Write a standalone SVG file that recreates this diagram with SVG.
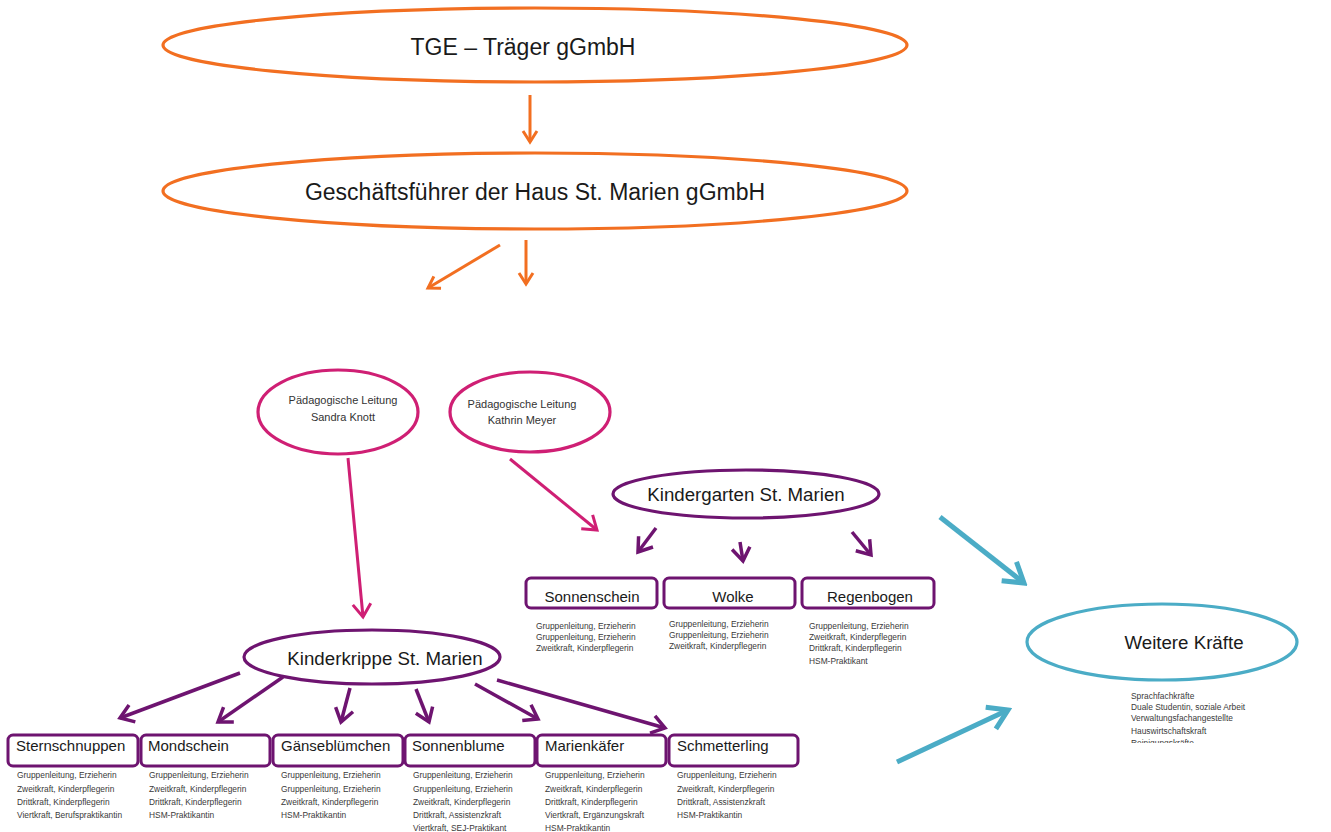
<svg xmlns="http://www.w3.org/2000/svg" width="1331" height="832" viewBox="0 0 1331 832">
<style>
.t{font-family:"Liberation Sans",Arial,sans-serif;fill:#1a1a1a}
.big{font-size:23px}
.mid{font-size:18.7px}
.box{font-size:15px}
.pl{font-size:11px;fill:#333}
.sm{font-size:8.4px;fill:#3a3a3a}
.eo{fill:none;stroke:#F26F21;stroke-width:3.2}
.em{fill:none;stroke:#CF1F74;stroke-width:3.2}
.ep{fill:none;stroke:#6E1470;stroke-width:3.2}
.et{fill:none;stroke:#4BACC6;stroke-width:3.2}
.r{fill:#fff;stroke:#6E1470;stroke-width:3}
.ao{stroke:#F26F21;stroke-width:3;fill:none;marker-end:url(#mo)}
.am{stroke:#CF1F74;stroke-width:3;fill:none;marker-end:url(#mm)}
.ap{stroke:#6E1470;stroke-width:3.5;fill:none;marker-end:url(#mp)}
.at{stroke:#4BACC6;stroke-width:5;fill:none;marker-end:url(#mt)}
</style>
<defs>
<marker id="mo" markerUnits="userSpaceOnUse" viewBox="0 0 20 20" markerWidth="20" markerHeight="20" refX="17" refY="10" orient="auto"><path d="M6,3 L17,10 L6,17" fill="none" stroke="#F26F21" stroke-width="3"/></marker>
<marker id="mm" markerUnits="userSpaceOnUse" viewBox="0 0 24 24" markerWidth="24" markerHeight="24" refX="20" refY="12" orient="auto"><path d="M7,3 L20,12 L7,21" fill="none" stroke="#CF1F74" stroke-width="3"/></marker>
<marker id="mp" markerUnits="userSpaceOnUse" viewBox="0 0 24 24" markerWidth="24" markerHeight="24" refX="20" refY="12" orient="auto"><path d="M7,3 L20,12 L7,21" fill="none" stroke="#6E1470" stroke-width="3.5"/></marker>
<marker id="mt" markerUnits="userSpaceOnUse" viewBox="0 0 32 32" markerWidth="32" markerHeight="32" refX="28" refY="16" orient="auto"><path d="M9,4 L28,16 L9,28" fill="none" stroke="#4BACC6" stroke-width="5"/></marker>
<clipPath id="cw"><rect x="1100" y="680" width="200" height="63"/></clipPath>
</defs>
<rect width="1331" height="832" fill="#fff"/>

<g id="connectors">
<line class="ao" x1="530" y1="95" x2="530" y2="142"/>
<line class="ao" x1="500" y1="245" x2="428" y2="288"/>
<line class="ao" x1="526" y1="240" x2="526" y2="284"/>
<line class="am" x1="348" y1="458" x2="363" y2="617"/>
<line class="am" x1="510" y1="459" x2="597" y2="530"/>
<line class="ap" x1="656" y1="528" x2="638" y2="552"/>
<line class="ap" x1="740" y1="542" x2="743" y2="561"/>
<line class="ap" x1="852" y1="532" x2="871" y2="555"/>
<line class="ap" x1="240" y1="673" x2="120" y2="718"/>
<line class="ap" x1="283" y1="677" x2="218" y2="722"/>
<line class="ap" x1="350" y1="688" x2="341" y2="722"/>
<line class="ap" x1="416" y1="689" x2="429" y2="722"/>
<line class="ap" x1="475" y1="684" x2="538" y2="719"/>
<line class="ap" x1="497" y1="680" x2="665" y2="728"/>
<line class="at" x1="940" y1="517" x2="1024" y2="583"/>
<line class="at" x1="897" y1="762" x2="1008" y2="710"/>
</g>

<g id="tge">
<ellipse class="eo" cx="535" cy="45" rx="372" ry="37"/>
<text class="t big" x="523" y="55" text-anchor="middle" font-size="22">TGE – Träger gGmbH</text>
</g>
<g id="gf">
<ellipse class="eo" cx="535" cy="191" rx="372" ry="38"/>
<text class="t big" x="535" y="200" text-anchor="middle" font-size="23.6">Geschäftsführer der Haus St. Marien gGmbH</text>
</g>

<g id="pl-knott">
<ellipse class="em" cx="338" cy="412" rx="80" ry="42"/>
<text class="t pl" x="343" y="404" text-anchor="middle">Pädagogische Leitung</text>
<text class="t pl" x="343" y="421" text-anchor="middle">Sandra Knott</text>
</g>
<g id="pl-meyer">
<ellipse class="em" cx="530" cy="412" rx="80" ry="40"/>
<text class="t pl" x="522" y="408" text-anchor="middle">Pädagogische Leitung</text>
<text class="t pl" x="522" y="424" text-anchor="middle">Kathrin Meyer</text>
</g>

<g id="kindergarten">
<ellipse class="ep" cx="746" cy="494" rx="133" ry="24"/>
<text class="t mid" x="746" y="501" text-anchor="middle">Kindergarten St. Marien</text>
</g>

<g id="sonnenschein">
<rect class="r" x="526" y="578" width="131" height="30" rx="5"/>
<text class="t box" x="592" y="602" text-anchor="middle">Sonnenschein</text>
<text class="t sm" x="536" y="629">Gruppenleitung, Erzieherin</text>
<text class="t sm" x="536" y="640">Gruppenleitung, Erzieherin</text>
<text class="t sm" x="536" y="651">Zweitkraft, Kinderpflegerin</text>
</g>
<g id="wolke">
<rect class="r" x="664" y="578" width="131" height="30" rx="5"/>
<text class="t box" x="733" y="602" text-anchor="middle">Wolke</text>
<text class="t sm" x="669" y="627">Gruppenleitung, Erzieherin</text>
<text class="t sm" x="669" y="638">Gruppenleitung, Erzieherin</text>
<text class="t sm" x="669" y="649">Zweitkraft, Kinderpflegerin</text>
</g>
<g id="regenbogen">
<rect class="r" x="802" y="578" width="132" height="30" rx="5"/>
<text class="t box" x="870" y="602" text-anchor="middle">Regenbogen</text>
<text class="t sm" x="809" y="629">Gruppenleitung, Erzieherin</text>
<text class="t sm" x="809" y="640">Zweitkraft, Kinderpflegerin</text>
<text class="t sm" x="809" y="651">Drittkraft, Kinderpflegerin</text>
<text class="t sm" x="809" y="664">HSM-Praktikant</text>
</g>

<g id="kinderkrippe">
<ellipse class="ep" cx="372" cy="657" rx="128" ry="27"/>
<text class="t mid" x="385" y="665" text-anchor="middle">Kinderkrippe St. Marien</text>
</g>

<g id="sternschnuppen">
<rect class="r" x="8" y="735" width="130" height="31" rx="5"/>
<text class="t box" x="16" y="751">Sternschnuppen</text>
<text class="t sm" x="17" y="778">Gruppenleitung, Erzieherin</text>
<text class="t sm" x="17" y="792">Zweitkraft, Kinderpflegerin</text>
<text class="t sm" x="17" y="805">Drittkraft, Kinderpflegerin</text>
<text class="t sm" x="17" y="818">Viertkraft, Berufspraktikantin</text>
</g>
<g id="mondschein">
<rect class="r" x="141" y="735" width="129" height="31" rx="5"/>
<text class="t box" x="148" y="751">Mondschein</text>
<text class="t sm" x="149" y="778">Gruppenleitung, Erzieherin</text>
<text class="t sm" x="149" y="792">Zweitkraft, Kinderpflegerin</text>
<text class="t sm" x="149" y="805">Drittkraft, Kinderpflegerin</text>
<text class="t sm" x="149" y="818">HSM-Praktikantin</text>
</g>
<g id="gaenseblumchen">
<rect class="r" x="273" y="735" width="130" height="31" rx="5"/>
<text class="t box" x="281" y="751">Gänseblümchen</text>
<text class="t sm" x="281" y="778">Gruppenleitung, Erzieherin</text>
<text class="t sm" x="281" y="792">Gruppenleitung, Erzieherin</text>
<text class="t sm" x="281" y="805">Zweitkraft, Kinderpflegerin</text>
<text class="t sm" x="281" y="818">HSM-Praktikantin</text>
</g>
<g id="sonnenblume">
<rect class="r" x="405" y="735" width="130" height="31" rx="5"/>
<text class="t box" x="412" y="751">Sonnenblume</text>
<text class="t sm" x="413" y="778">Gruppenleitung, Erzieherin</text>
<text class="t sm" x="413" y="792">Gruppenleitung, Erzieherin</text>
<text class="t sm" x="413" y="805">Zweitkraft, Kinderpflegerin</text>
<text class="t sm" x="413" y="818">Drittkraft, Assistenzkraft</text>
<text class="t sm" x="413" y="831">Viertkraft, SEJ-Praktikant</text>
</g>
<g id="marienkaefer">
<rect class="r" x="537" y="735" width="129" height="31" rx="5"/>
<text class="t box" x="545" y="751">Marienkäfer</text>
<text class="t sm" x="545" y="778">Gruppenleitung, Erzieherin</text>
<text class="t sm" x="545" y="792">Zweitkraft, Kinderpflegerin</text>
<text class="t sm" x="545" y="805">Drittkraft, Kinderpflegerin</text>
<text class="t sm" x="545" y="818">Viertkraft, Ergänzungskraft</text>
<text class="t sm" x="545" y="831">HSM-Praktikantin</text>
</g>
<g id="schmetterling">
<rect class="r" x="669" y="735" width="129" height="31" rx="5"/>
<text class="t box" x="677" y="751">Schmetterling</text>
<text class="t sm" x="677" y="778">Gruppenleitung, Erzieherin</text>
<text class="t sm" x="677" y="792">Zweitkraft, Kinderpflegerin</text>
<text class="t sm" x="677" y="805">Drittkraft, Assistenzkraft</text>
<text class="t sm" x="677" y="818">HSM-Praktikantin</text>
</g>

<g id="weitere">
<ellipse class="et" cx="1162" cy="642" rx="135" ry="38"/>
<text class="t mid" x="1184" y="649" text-anchor="middle" font-size="19">Weitere Kräfte</text>
<g clip-path="url(#cw)">
<text class="t sm" x="1131" y="699">Sprachfachkräfte</text>
<text class="t sm" x="1131" y="710">Duale Studentin, soziale Arbeit</text>
<text class="t sm" x="1131" y="721">Verwaltungsfachangestellte</text>
<text class="t sm" x="1131" y="734">Hauswirtschaftskraft</text>
<text class="t sm" x="1131" y="746">Reinigungskräfte</text>
</g>
</g>
</svg>
